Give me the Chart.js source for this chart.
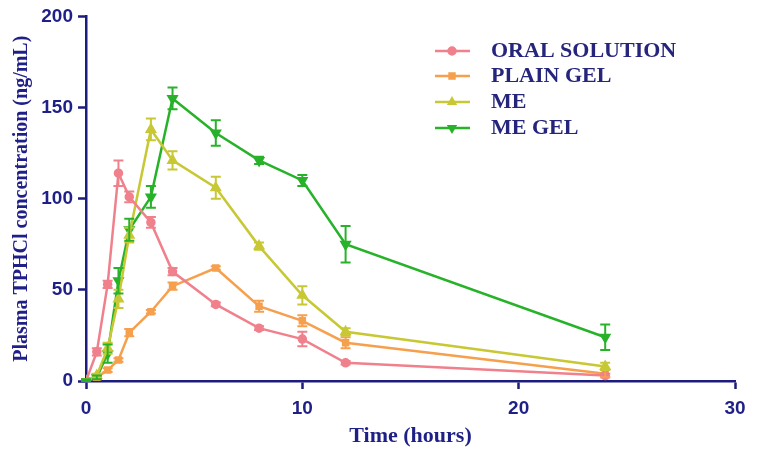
<!DOCTYPE html>
<html>
<head>
<meta charset="utf-8">
<script src="https://cdn.jsdelivr.net/npm/chart.js@4/dist/chart.umd.min.js"></script>
<style>
  html, body { margin: 0; padding: 0; background: #fff; }
  #wrap { width: 758px; height: 453px; }
</style>
</head>
<body>
<div id="wrap"><canvas id="pk-chart"></canvas></div>
<script>
    "use strict";

    // sampling times (hours)
    const times = [0, 0.5, 1, 1.5, 2, 3, 4, 6, 8, 10, 12, 24];

    // mean plasma concentration (ng/mL)
    const oralSolution = [0, 16, 53, 114, 101, 87, 60, 42, 29, 23, 10, 3];
    const plainGel = [0, 2, 6, 11.5, 26.5, 38, 52, 62, 41, 33, 21, 4];
    const me = [0, 3, 18, 45, 80, 138, 121, 106, 74, 47, 27, 8];
    const meGel = [0, 2, 15, 55, 83, 101, 155, 136, 121, 110, 75, 24];

    // standard deviations
    const oralSolutionSd = [1, 2, 2, 7, 3, 3, 2, 1, 1, 4, 1, 1];
    const plainGelSd = [1, 1, 1, 1, 2, 1, 2, 1, 3, 3, 3, 2];
    const meSd = [1, 1, 3, 5, 4, 6, 5, 6, 2, 5, 2, 2];
    const meGelSd = [1, 1, 5, 7, 6, 6, 6, 7, 2, 3, 10, 7];

    const xTicks = [0, 10, 20, 30];
    const yTicks = [0, 50, 100, 150, 200];

    const navy = '#1c1c7e';
    const labelBlue = '#1f1f88';

    function toPoints(ys) {
        return times.map((t, i) => ({x: t, y: ys[i]}));
    }

    function makeSet(label, ys, sd, color, style, rotation) {
        return {
            label: label,
            data: toPoints(ys),
            sd: sd,
            borderColor: color,
            backgroundColor: color,
            pointBackgroundColor: color,
            pointBorderColor: color,
            pointStyle: style,
            pointRotation: rotation || 0,
            pointRadius: style === 'triangle' ? 4.5 : 3.5,
            borderWidth: 2.5,
            lineTension: 0,
            fill: false
        };
    }

    const datasets = [
        makeSet('ORAL SOLUTION', oralSolution, oralSolutionSd, '#f0818c', 'circle'),
        makeSet('PLAIN GEL', plainGel, plainGelSd, '#f6a04e', 'rect'),
        makeSet('ME', me, meSd, '#c8c835', 'triangle'),
        makeSet('ME GEL', meGel, meGelSd, '#28b22a', 'triangle', 180)
    ];

    const errorBars = {
        id: 'errorBars',
        afterDatasetsDraw(chart) {
            const {ctx, scales: {x, y}} = chart;
            ctx.save();
            chart.data.datasets.forEach(ds => {
                ctx.strokeStyle = ds.borderColor;
                ctx.lineWidth = 2;
                ds.data.forEach((p, i) => {
                    const sd = ds.sd[i];
                    if (!sd) return;
                    const px = x.getPixelForValue(p.x);
                    const top = y.getPixelForValue(p.y + sd);
                    const bot = y.getPixelForValue(Math.max(p.y - sd, 0));
                    ctx.beginPath();
                    ctx.moveTo(px, top); ctx.lineTo(px, bot);
                    ctx.moveTo(px - 5, top); ctx.lineTo(px + 5, top);
                    ctx.moveTo(px - 5, bot); ctx.lineTo(px + 5, bot);
                    ctx.stroke();
                });
            });
            ctx.restore();
        }
    };

    // legend drawn inside the plot, top right
    const insideLegend = {
        id: 'insideLegend',
        afterDraw(chart) {
            const ctx = chart.ctx;
            const rows = [51, 76, 102, 128];
            ctx.save();
            chart.data.datasets.forEach((ds, i) => {
                const yy = rows[i];
                ctx.strokeStyle = ds.borderColor;
                ctx.lineWidth = 2.5;
                ctx.beginPath();
                ctx.moveTo(435, yy); ctx.lineTo(470, yy);
                ctx.stroke();
                Chart.helpers.drawPoint(ctx, {
                    pointStyle: ds.pointStyle,
                    rotation: ds.pointRotation,
                    radius: 3.5,
                    borderWidth: 1
                }, 452, yy);
                ctx.fillStyle = ds.borderColor;
                ctx.fill();
                ctx.fillStyle = '#25257c';
                ctx.font = 'bold 22px "Liberation Serif", "Times New Roman", serif';
                ctx.textBaseline = 'middle';
                ctx.textAlign = 'left';
                ctx.fillText(ds.label, 491, yy);
            });
            ctx.restore();
        }
    };

    new Chart(document.getElementById('pk-chart'), {
        type: 'line',
        data: {datasets: datasets},
        plugins: [errorBars, insideLegend],
        options: {
            responsive: true,
            maintainAspectRatio: false,
            animation: false,
            layout: {
                padding: {left: 0, top: 16, right: 23, bottom: 0}
            },
            plugins: {
                legend: {display: false},
                tooltip: {enabled: false}
            },
            scales: {
                x: {
                    type: 'linear',
                    min: 0,
                    max: 30,
                    afterFit: scale => { scale.height = 72; },
                    afterBuildTicks: scale => { scale.ticks = xTicks.map(v => ({value: v})); },
                    border: {display: true, color: navy, width: 2.5},
                    grid: {
                        drawOnChartArea: false,
                        drawTicks: true,
                        tickLength: 8,
                        tickWidth: 2.5,
                        tickColor: navy
                    },
                    ticks: {
                        color: labelBlue,
                        padding: 8,
                        font: {family: '"Liberation Sans", Arial, sans-serif', size: 19, weight: 'bold'}
                    },
                    title: {
                        display: true,
                        text: 'Time (hours)',
                        color: labelBlue,
                        padding: {top: 0, bottom: 3},
                        font: {family: '"Liberation Serif", "Times New Roman", serif', size: 22, weight: 'bold'}
                    }
                },
                y: {
                    min: 0,
                    max: 200,
                    afterFit: scale => { scale.width = 86; },
                    afterBuildTicks: scale => { scale.ticks = yTicks.map(v => ({value: v})); },
                    border: {display: true, color: navy, width: 2.5},
                    grid: {
                        drawOnChartArea: false,
                        drawTicks: true,
                        tickLength: 8,
                        tickWidth: 2.5,
                        tickColor: navy
                    },
                    ticks: {
                        color: labelBlue,
                        padding: 5,
                        font: {family: '"Liberation Sans", Arial, sans-serif', size: 19, weight: 'bold'}
                    },
                    title: {
                        display: true,
                        text: 'Plasma TPHCl concentration (ng/mL)',
                        color: labelBlue,
                        padding: {top: 10, bottom: 0},
                        font: {family: '"Liberation Serif", "Times New Roman", serif', size: 20, weight: 'bold'}
                    }
                }
            }
        }
    });
</script>
</body>
</html>
